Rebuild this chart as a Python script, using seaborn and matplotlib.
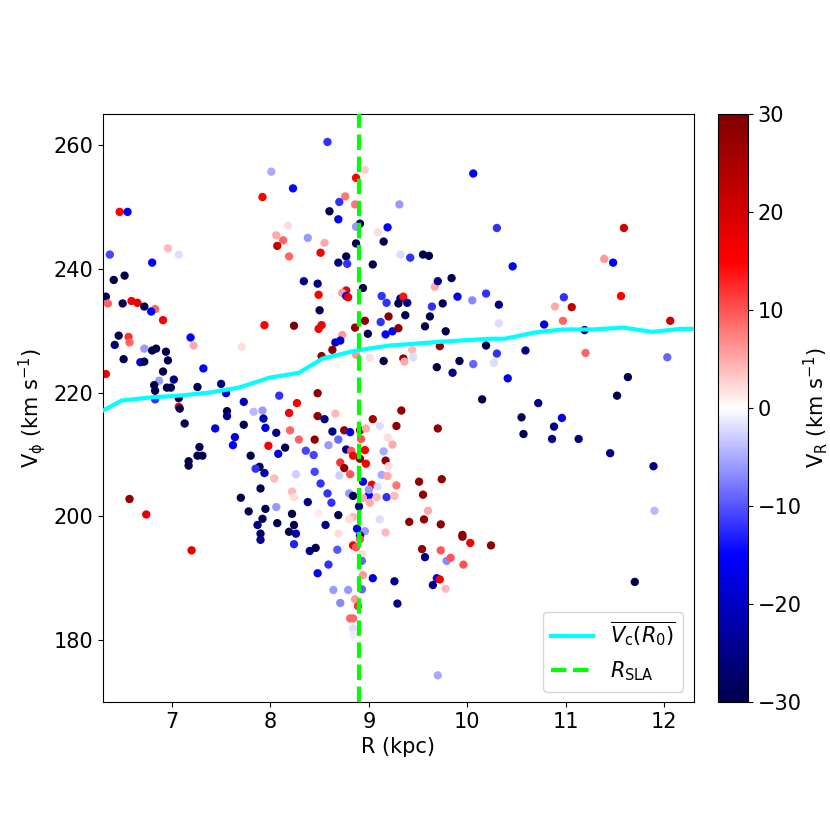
import numpy as np
import pandas as pd
import seaborn as sns
import matplotlib.pyplot as plt
from matplotlib.colors import Normalize
from matplotlib.cm import ScalarMappable

# stars: galactocentric radius, azimuthal velocity, radial velocity
R_kpc = [
    8.01, 8.23, 7.92, 6.47, 6.55, 8.18, 8.06, 8.13, 8.07, 8.19, 6.37, 6.96, 7.07, 6.80, 6.41, 6.52,
    6.33, 6.35, 6.50, 6.59, 6.65, 6.72, 6.83, 6.79, 6.91, 7.94, 8.24, 6.46, 6.56, 6.57, 6.42, 6.72,
    6.80, 6.84, 6.94, 7.19, 7.22, 7.71, 6.51, 6.68, 6.72, 6.96, 7.32, 6.33, 6.91, 7.02, 6.87, 6.82,
    6.83, 6.95, 6.99, 7.26, 7.50, 7.55, 6.83, 7.07, 7.07, 7.08, 8.09, 8.27, 7.73, 7.56, 7.56, 7.83,
    7.92, 7.93, 8.19, 7.13, 7.73, 7.44, 7.95, 8.06, 8.20, 8.29, 7.64, 7.62, 7.98, 8.15, 8.08, 7.28,
    7.26, 7.31, 7.80, 7.17, 7.17, 7.89, 7.85, 7.94, 8.04, 8.26, 7.90, 8.22, 7.70, 6.57, 8.24, 6.74,
    7.20, 7.78, 7.95, 8.06, 7.92, 7.87, 7.90, 7.90, 8.07, 8.22, 8.24, 8.19, 8.26, 8.24,
    8.58, 8.96, 8.87, 10.06, 8.76, 8.70, 8.86, 9.31, 8.60, 8.69, 8.91, 8.87, 9.19, 9.09, 8.38, 8.55,
    8.87, 9.15, 9.32, 9.42, 9.55, 9.61, 8.51, 8.77, 8.69, 8.78, 9.04, 8.34, 8.48, 8.49, 8.77, 8.73,
    8.77, 8.79, 8.94, 9.13, 9.18, 9.32, 9.35, 9.30, 9.39, 9.67, 9.70, 9.84, 9.64, 9.75, 9.90, 10.05,
    10.19, 8.50,
    10.30, 11.59, 11.39, 11.48, 10.46, 10.32, 10.98, 10.89, 11.06, 11.56,
    10.32, 10.78, 10.97, 11.19, 12.06, 10.19, 10.30, 10.27, 10.59, 11.20, 12.03, 10.41, 11.63, 10.15,
    11.52, 10.72, 10.55, 10.96, 10.57, 10.88, 10.86, 11.13, 11.45, 11.89,
    10.24, 11.70, 11.90,
    8.52, 8.49, 8.86, 8.96, 8.73, 8.66, 8.71, 8.63, 9.12, 9.20, 9.37, 8.99, 9.17, 9.24, 9.30, 9.62,
    9.57, 9.78, 9.72, 8.52, 8.87, 9.01, 9.15, 9.35, 9.36, 9.44, 9.45, 9.69, 9.92, 9.85, 10.06, 8.48,
    9.33, 8.48, 8.55, 8.66, 9.04, 9.28, 9.11, 9.70, 8.63, 8.75, 8.81, 8.91, 8.97, 8.92, 9.19, 9.24,
    8.45, 8.59, 8.69, 8.36, 8.44, 8.77, 8.82, 8.84, 8.96, 8.91, 9.15, 9.17, 9.20, 8.71, 8.75, 8.97,
    8.81, 8.45, 8.70, 9.13, 9.19, 8.51, 8.94, 9.03, 9.09, 9.28, 9.51, 9.74, 9.55, 8.58, 8.80, 8.84,
    9.00, 9.00, 9.08, 9.18, 9.26,
    8.94, 8.38, 8.62, 9.01, 8.90, 8.69, 8.84, 8.80, 8.49, 9.11, 9.60, 9.41, 9.56, 9.73, 8.56, 8.88,
    8.96, 8.91, 8.69, 9.17, 8.40, 8.46, 8.68, 8.84, 8.87, 8.91, 8.93, 9.54, 9.73, 9.95, 9.95, 10.03,
    9.57, 9.79, 9.83, 9.96, 8.93, 8.59, 8.48, 8.94, 9.04, 9.26, 9.69, 9.72, 9.65, 9.78, 8.64, 8.79,
    8.93, 9.29, 8.71, 8.86, 8.89, 8.81, 8.84, 8.84, 8.85, 9.70,
]
V_phi = [
    255.7, 253.0, 251.6, 249.2, 249.2, 247.0, 245.4, 244.6, 243.7, 242.0, 242.3, 243.3, 242.3, 241.0, 238.2, 238.9,
    235.5, 234.4, 234.4, 234.8, 234.5, 233.9, 233.5, 233.1, 231.7, 230.9, 230.8, 229.2, 229.0, 228.1, 227.7, 227.1,
    226.8, 227.1, 226.6, 228.9, 227.6, 227.4, 225.4, 224.9, 225.0, 225.2, 223.9, 223.0, 223.4, 222.1, 221.9, 221.2,
    220.3, 220.8, 220.8, 220.9, 221.4, 219.9, 218.9, 219.1, 217.7, 217.4, 219.5, 218.3, 218.5, 217.0, 216.2, 216.9,
    217.1, 215.8, 216.7, 215.0, 214.8, 214.2, 214.3, 213.5, 213.9, 212.4, 212.8, 211.5, 211.4, 211.1, 210.1, 211.2,
    209.8, 209.8, 209.8, 208.9, 208.2, 208.0, 207.7, 207.0, 206.1, 206.8, 204.5, 204.0, 203.0, 202.8, 203.1, 200.3,
    194.5, 200.8, 201.2, 201.5, 199.6, 198.6, 197.2, 196.2, 198.9, 200.4, 198.6, 197.5, 197.2, 195.5,
    260.5, 256.0, 254.7, 255.4, 251.7, 250.8, 250.4, 250.4, 249.3, 248.0, 247.3, 246.8, 246.7, 245.9, 245.0, 244.2,
    244.1, 244.4, 242.3, 241.8, 242.3, 242.1, 242.6, 242.0, 241.0, 240.8, 240.7, 238.0, 237.6, 235.8, 236.5, 236.1,
    235.6, 235.4, 236.9, 235.6, 234.5, 235.2, 235.5, 234.4, 234.5, 237.1, 238.0, 238.5, 233.9, 234.4, 235.5, 234.9,
    236.0, 233.3,
    246.6, 246.6, 241.6, 241.0, 240.4, 234.2, 235.4, 233.9, 233.8, 235.6,
    231.2, 231.0, 231.6, 230.1, 231.6, 227.6, 226.3, 224.8, 226.8, 226.4, 225.7, 222.3, 222.5, 218.9,
    219.5, 218.3, 216.0, 215.9, 213.3, 214.5, 212.5, 212.5, 210.2, 208.1,
    195.3, 189.4, 200.9,
    230.9, 230.3, 230.5, 231.6, 229.3, 228.1, 228.4, 226.9, 231.4, 232.3, 232.5, 229.5, 229.4, 229.9, 230.4, 232.3,
    230.7, 229.9, 227.5, 225.9, 226.1, 225.6, 225.1, 225.5, 225.0, 226.9, 225.7, 224.1, 225.1, 223.2, 224.6, 219.9,
    217.1, 216.2, 215.7, 216.6, 215.7, 214.6, 214.6, 214.2, 213.7, 213.9, 213.6, 213.9, 214.2, 212.5, 212.7, 211.6,
    212.4, 211.5, 212.4, 210.6, 209.9, 210.8, 210.6, 209.8, 210.7, 209.3, 210.5, 209.0, 208.1, 208.7, 207.8, 208.5,
    206.8, 207.2, 206.6, 206.7, 206.5, 205.3, 205.6, 205.1, 204.8, 205.0, 205.6, 206.0, 203.5, 203.7, 203.7, 203.3,
    203.4, 204.3, 203.1, 203.1, 203.3,
    203.0, 202.3, 202.2, 202.2, 201.6, 200.2, 199.9, 199.5, 200.5, 199.5, 200.9, 199.1, 199.5, 198.7, 198.6, 198.0,
    197.6, 196.9, 197.2, 197.4, 194.4, 194.9, 194.6, 195.3, 195.0, 196.3, 193.9, 194.7, 194.5, 197.0, 196.7, 195.7,
    193.4, 192.8, 193.3, 192.2, 192.8, 192.2, 190.8, 190.5, 190.0, 189.5, 190.0, 189.8, 188.9, 188.3, 188.1, 188.1,
    188.2, 185.9, 186.0, 186.6, 185.5, 183.5, 183.5, 181.9, 180.9, 174.3,
]
V_R = [
    -5, -15, 15, 15, -15, 2, 5, 9, 22, 9, -11, 4, -2, -15, -30, -30,
    -30, 9, -30, 16, 18, -30, 9, -15, 16, 15, 30, -30, 12, 9, -27, -6,
    -30, -30, -30, -15, 5, 2, -30, -17, -30, -30, -15, 16, -30, -25, -6, -30,
    -30, -30, -30, -30, -25, -17, -12, -30, 16, -30, -12, 16, -20, -30, -25, -4,
    -6, -22, 16, -30, -30, -17, -17, -25, 9, 9, -17, -15, 16, -30, -17, -30,
    -30, -30, -30, -30, -30, -30, -12, -22, 4, -3, -30, 4, -30, 28, 2, 18,
    18, -30, -30, -6, -30, -24, -28, -24, -30, -30, -30, -30, -22, -13,
    -12, 3, 15, -15, 8, -12, 8, -6, -30, -15, -30, -6, -15, 2, -6, 5,
    -30, -30, -2, -12, -30, -30, 16, -30, -25, -12, -30, -25, -25, 15, 17, 6,
    -17, 17, -30, -12, -12, -25, 14, -30, -25, 5, -25, -30, -12, -30, -17, -7,
    -12, -30,
    -12, 20, 6, -15, -15, -25, -12, 5, 22, 16,
    -2, -17, 9, -25, 20, -30, -12, -2, -25, 9, -9, -17, -30, -30,
    -30, -25, -30, -17, -30, -25, -25, -25, -25, -25,
    28, -30, -4,
    16, 16, 28, 28, 6, -20, -17, 28, -12, 28, -30, -30, -15, -15, 28, -30,
    -30, -30, 28, 28, 6, 2, -30, 28, 5, 4, -2, -30, -30, -25, -9, 28,
    28, 28, -25, 4, 26, 28, -2, 28, -25, 28, -17, 28, 5, 10, 2, 5,
    28, -6, -9, -11, -11, -25, 10, 16, 15, 28, -5, 28, 2, 12, 28, 16,
    10, -11, -3, -5, 5, -12, -15, 16, -2, 8, 28, 28, 28, -12, -6, -30,
    -15, -6, 4, -12, 4,
    5, -25, -12, 5, -25, -30, 4, 2, 1, -2, 5, 28, 28, 28, -25, -17,
    -6, -25, 2, 4, -25, -30, -10, 16, 10, 10, 2, 28, 10, 28, 28, 16,
    -25, -7, 10, 10, -9, -12, -15, 6, -17, -25, -15, 16, -25, 4, -6, -6,
    -9, -25, -7, 6, 12, 9, 9, -2, -1, -5,
]

# mean circular velocity curve
R_curve = [6.3, 6.49, 6.77, 7.07, 7.38, 7.68, 7.99, 8.29, 8.53, 8.87, 9.21, 9.72, 10.23,
           10.38, 10.68, 10.97, 11.27, 11.58, 11.88, 12.16, 12.3]
Vc_curve = [217.1, 218.7, 219.2, 219.5, 220.0, 220.8, 222.4, 223.2, 225.5, 226.8, 227.6, 228.2, 228.7,
            228.7, 229.7, 230.2, 230.2, 230.5, 229.8, 230.3, 230.3]

R_SLA = 8.9

stars = pd.DataFrame({'R': R_kpc, 'Vphi': V_phi, 'VR': V_R})
curve = pd.DataFrame({'R': R_curve, 'Vc': Vc_curve})

plt.rcParams['font.size'] = 15

fig = plt.figure(figsize=(8.3, 8.21), dpi=100)
ax = fig.add_axes([0.124, 0.145, 0.712, 0.716])
cax = fig.add_axes([0.865, 0.145, 0.036, 0.716])

sns.scatterplot(data=stars, x='R', y='Vphi', hue='VR', palette='seismic', hue_norm=(-30, 30),
                s=36, linewidth=0, legend=False, ax=ax, zorder=1)
sns.lineplot(data=curve, x='R', y='Vc', color='cyan', lw=3, ax=ax, zorder=3,
             label=r'$\overline{V_{\rm c}(R_0)}$')
ax.axvline(R_SLA, color='lime', ls='--', lw=3, zorder=3, label=r'$R_{\rm SLA}$')

ax.set_xlim(6.3, 12.3)
ax.set_ylim(170, 265)
ax.set_xticks([7, 8, 9, 10, 11, 12])
ax.set_yticks([180, 200, 220, 240, 260])
ax.set_xlabel('R (kpc)')
ax.set_ylabel(r'V$_{\rm \phi}$ (km s$^{-1}$)')
ax.legend(loc='lower right')

sm = ScalarMappable(norm=Normalize(-30, 30), cmap='seismic')
cb = fig.colorbar(sm, cax=cax)
cb.set_ticks([-30, -20, -10, 0, 10, 20, 30])
cb.set_label(r'V$_{\rm R}$ (km s$^{-1}$)', labelpad=0)

fig.savefig('out.png', dpi=100)
